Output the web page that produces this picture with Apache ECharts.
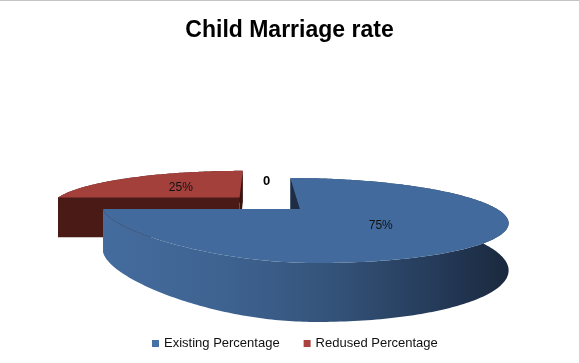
<!DOCTYPE html>
<html><head><meta charset="utf-8">
<script src="https://cdn.jsdelivr.net/npm/echarts@6/dist/echarts.min.js"></script>
<style>html,body{margin:0;padding:0;background:#fff}#c{width:579px;height:363px;box-sizing:border-box;border-top:1px solid #c4c4c4}</style>
</head><body><div id="c"></div>
<script>
// ---- data ----
const categories = ['Existing Percentage', 'Redused Percentage'];
const values = [75, 25];
const valueLabels = ['75%', '25%'];
const zeroLabel = '0';

// ---- layout / style ----
const total = values.reduce((a, b) => a + b, 0);
const G = { cx: 300, cy: 208, rx: 197, ry: 39.4, D: 3.695, h: 43, vx: 255 };
const explodeBy = [0, 0.443];
const styles = [
  { legend: '#4672a6', top: '#426a9c', face: '#1e2d44',
    wall: { type: 'linear', x: 100, y: 0, x2: 510, y2: 0, global: true,
      colorStops: [{ offset: 0, color: '#446c9e' }, { offset: 0.3, color: '#3e6391' },
        { offset: 0.55, color: '#35547b' }, { offset: 0.8, color: '#263d5c' }, { offset: 1, color: '#1a283d' }] } },
  { legend: '#a8433f', top: '#a3403c', face: '#4a1a17', face2: '#3a1210', wall: '#4a1a17' }
];

function proj(X, Z, hgt) {
  const s = G.D / (G.D + Z);
  const sx = (X < 0 && Z < 0) ? 1 : s;
  return [G.cx + (G.cx - G.vx) * (s - 1) + G.rx * X * sx, G.cy - G.ry * Z * s + hgt * s];
}
const camX = (G.vx - G.cx) / G.rx;
const rad = d => d * Math.PI / 180;

function makeRender(i) {
  return function (params, api) {
    let start = 0;
    for (let k = 0; k < i; k++) start += values[k] / total * 360;
    const end = start + api.value(0) / total * 360;
    const mid = rad((start + end) / 2);
    const e = explodeBy[i];
    const ox = e * Math.sin(mid), oz = e * Math.cos(mid);
    const rim = (t, hg) => proj(ox + Math.sin(rad(t)), oz + Math.cos(rad(t)), hg);
    const ctr = hg => proj(ox, oz, hg);
    const st = styles[i];
    const children = [];
    const step = 1;
    const arc = [];
    for (let t = start; t < end; t += step) arc.push(t);
    arc.push(end);
    // outer wall band (top surface drawn later hides the back part)
    const wallPts = arc.map(t => rim(t, 0)).concat(arc.slice().reverse().map(t => rim(t, G.h)));
    children.push({ type: 'polygon', shape: { points: wallPts }, style: { fill: st.wall } });
    // radial faces facing the viewer
    const visible = (nx, nz, px, pz) => nx * (px - camX) + nz * (pz + G.D) < 0;
    const faces = [
      { ang: start, n: start - 90, col: st.face },
      { ang: end, n: end + 90, col: st.face2 || st.face }
    ];
    faces.forEach(f => {
      const px = ox + 0.5 * Math.sin(rad(f.ang)), pz = oz + 0.5 * Math.cos(rad(f.ang));
      if (visible(Math.sin(rad(f.n)), Math.cos(rad(f.n)), px, pz)) {
        children.push({ type: 'polygon', shape: { points: [ctr(0), rim(f.ang, 0), rim(f.ang, G.h), ctr(G.h)] },
          style: { fill: f.col } });
      }
    });
    // top
    const topPts = [ctr(0)].concat(arc.map(t => rim(t, 0)));
    children.push({ type: 'polygon', shape: { points: topPts }, style: { fill: st.top } });
    // label
    const lp = proj(ox + 0.5 * Math.sin(mid), oz + 0.5 * Math.cos(mid), 0);
    children.push({ type: 'text', style: { text: valueLabels[i], x: lp[0] - 1, y: lp[1] + 1, align: 'center', verticalAlign: 'middle',
      fontSize: 12, fontFamily: 'Liberation Sans', fill: '#111' } });
    return { type: 'group', children };
  };
}

const chart = echarts.init(document.getElementById('c'), null, { renderer: 'canvas' });
const order = [1, 0];
chart.setOption({
  animation: false,
  title: { text: 'Child Marriage rate', left: 'center', top: 13,
    textStyle: { fontSize: 23, fontWeight: 'bold', fontFamily: 'Liberation Sans', color: '#000' } },
  legend: { data: categories.slice(), left: 152, top: 336, padding: 0, icon: 'rect', itemWidth: 7, itemHeight: 7, itemGap: 24,
    textStyle: { fontSize: 13, fontFamily: 'Liberation Sans', color: '#111' } },
  graphic: [{ type: 'text', left: 263, top: 174, style: { text: zeroLabel, fontSize: 13, fontFamily: 'Liberation Sans', fill: '#000', fontWeight: 'bold' } }],
  series: order.map(i => ({
    type: 'custom', name: categories[i], coordinateSystem: 'none', silent: true,
    itemStyle: { color: styles[i].legend },
    renderItem: makeRender(i),
    data: [[values[i]]]
  }))
});
</script></body></html>
